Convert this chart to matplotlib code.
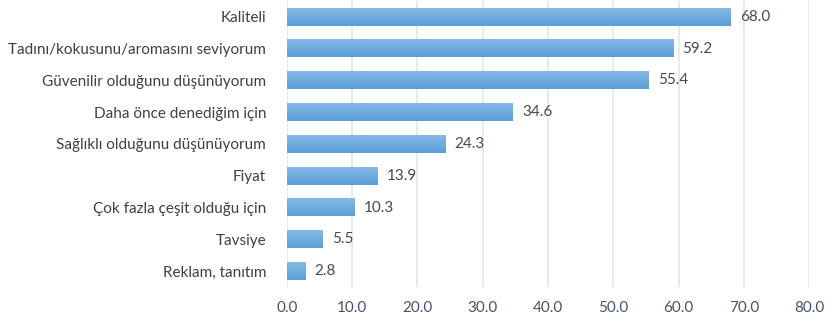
import matplotlib
matplotlib.use("Agg")
import matplotlib.pyplot as plt
import numpy as np

labels = ["Kaliteli", "Tadını/kokusunu/aromasını seviyorum",
          "Güvenilir olduğunu düşünüyorum", "Daha önce denediğim için",
          "Sağlıklı olduğunu düşünüyorum", "Fiyat",
          "Çok fazla çeşit olduğu için", "Tavsiye", "Reklam, tanıtım"]
values = [68.0, 59.2, 55.4, 34.6, 24.3, 13.9, 10.3, 5.5, 2.8]
xticks = [0, 10, 20, 30, 40, 50, 60, 70, 80]

plt.rcParams['font.family'] = ['Lato', 'DejaVu Sans']

fig = plt.figure(figsize=(8.29, 3.28), dpi=100)
ax = fig.add_axes([287 / 829, 1 - 287 / 328, (809 - 287) / 829, 286 / 328])

y = np.arange(len(labels))
bars = ax.barh(y, values, height=0.55, color='none', zorder=2)

# vertical gradient inside each bar
grad = np.linspace(0, 1, 64).reshape(-1, 1)
cmap = matplotlib.colors.LinearSegmentedColormap.from_list('g', ['#86b9e6', '#5a9fd8'])
for b in bars:
    x0, y0 = b.get_x(), b.get_y()
    w, h = b.get_width(), b.get_height()
    ax.imshow(grad, extent=[x0, x0 + w, y0 + h, y0], cmap=cmap, aspect='auto', zorder=2)

for yi, v in zip(y, values):
    ax.text(v + 1.4, yi, f"{v:.1f}", va='center', ha='left', fontsize=11, color='#404a5a')

ax.set_xlim(0, 80)
ax.set_ylim(len(labels) - 0.5, -0.5)
ax.set_xticks(xticks)
ax.set_xticklabels([f"{t:.1f}" for t in xticks], fontsize=11, color='#44546a')
ax.set_yticks(y)
ax.set_yticklabels(labels, fontsize=11, color='#404040')
ax.tick_params(length=0, pad=10)
ax.tick_params(axis='y', pad=15)
ax.grid(axis='x', color='#e3e6ec', linewidth=1.2, zorder=0)
ax.set_axisbelow(True)
for s in ax.spines.values():
    s.set_visible(False)

fig.savefig("out.png", dpi=100)
